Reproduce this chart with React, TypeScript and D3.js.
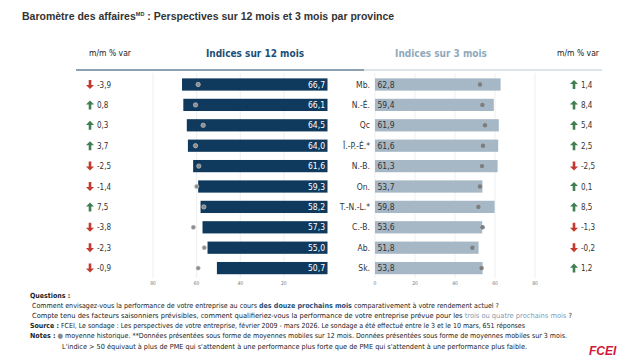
import React from "react";
import * as d3 from "d3";

const provinces = ["Mb.", "N.-É.", "Qc", "Î.-P.-É.*", "N.-B.", "On.", "T.-N.-L.*", "C.-B.", "Ab.", "Sk."];
const index12 = [66.7, 66.1, 64.5, 64.0, 61.6, 59.3, 58.2, 57.3, 55.0, 50.7];
const hist12 = [59.3, 60.5, 57.0, 60.5, 59.0, 60.0, 56.7, 61.5, 56.5, 59.3];
const index3 = [62.8, 59.4, 61.9, 61.6, 61.3, 53.7, 59.8, 53.6, 51.8, 53.8];
const hist3 = [52.5, 53.7, 55.0, 54.0, 53.5, 52.5, 51.7, 53.8, 48.7, 53.3];
const mom12 = [-3.9, 0.8, 0.3, 3.7, -2.5, -1.4, 7.5, -3.8, -2.3, -0.9];
const mom3 = [1.4, 8.4, 5.4, 2.5, -2.5, 0.1, 8.5, -1.3, -0.2, 1.2];
const ticks12 = [80, 60, 40, 20];
const ticks3 = [0, 20, 40, 60, 80];

const W = 635;
const H = 362;
const font = "'DejaVu Sans Condensed', 'DejaVu Sans', sans-serif";
const DARK = "#0f3a5d";
const LIGHT = "#a6b8c6";
const UP = "#3f7f52";
const DOWN = "#c43a2e";

const fmt = (v: number) => v.toFixed(1).replace(".", ",");

const Arrow = ({ x, y, up }: { x: number; y: number; up: boolean }) => {
  // arrow centred on (x, y)
  const p = "M0,-4.5 L4,-0.4 L1.3,-0.4 L1.3,4.5 L-1.3,4.5 L-1.3,-0.4 L-4,-0.4 Z";
  return (
    <path
      d={p}
      fill={up ? UP : DOWN}
      transform={`translate(${x},${y}) rotate(${up ? 0 : 180})`}
    />
  );
};

const App: React.FC = () => {
  const y = d3
    .scaleBand<string>()
    .domain(provinces)
    .range([74.3, 278.3])
    .paddingInner(0.4)
    .paddingOuter(0.2);
  const xL = d3.scaleLinear().domain([0, 80]).range([327.5, 153]);
  const xR = d3.scaleLinear().domain([0, 80]).range([375, 535]);
  const bw = y.bandwidth();
  const cy = (p: string) => (y(p) || 0) + bw / 2;

  return (
    <div style={{ position: "fixed", left: 0, top: 0 }}>
      <svg width={W} height={H} style={{ display: "block", background: "#fff" }} fontFamily={font}>
        {/* title */}
        <text x={22} y={20} fontSize={10.5} fontWeight="bold" fill="#333" fontFamily="'Liberation Sans', Arial, sans-serif">
          Baromètre des affaires
          <tspan fontSize={5.5} dy={-4}>MD</tspan>
          <tspan dy={4}> : Perspectives sur 12 mois et 3 mois par province</tspan>
        </text>

        {/* headers */}
        <text x={110} y={56} fontSize={8.5} fill="#222" textAnchor="middle">m/m % var</text>
        <text x={255} y={57} fontSize={10} fontWeight="bold" fill="#1d4f78" textAnchor="middle">Indices sur 12 mois</text>
        <text x={441} y={57} fontSize={10} fontWeight="bold" fill="#8fa9bd" textAnchor="middle">Indices sur 3 mois</text>
        <text x={578} y={56} fontSize={8.5} fill="#222" textAnchor="middle">m/m % var</text>
        <line x1={76} x2={364} y1={70} y2={70} stroke="#1c4466" strokeWidth={1.2} />
        <line x1={364} x2={602} y1={70} y2={70} stroke="#bccbd6" strokeWidth={1.2} />

        {/* gridlines */}
        {ticks12.map((t) => (
          <line key={`gl${t}`} x1={xL(t)} x2={xL(t)} y1={73} y2={278} stroke="#e8e8e8" strokeWidth={0.7} />
        ))}
        {ticks3.map((t) => (
          <line key={`gr${t}`} x1={xR(t)} x2={xR(t)} y1={73} y2={278} stroke="#e8e8e8" strokeWidth={0.7} />
        ))}
        {ticks12.map((t) => (
          <text key={`tl${t}`} x={xL(t)} y={285} fontSize={5} fill="#777" textAnchor="middle">{t}</text>
        ))}
        {ticks3.map((t) => (
          <text key={`tr${t}`} x={xR(t)} y={285} fontSize={5} fill="#777" textAnchor="middle">{t}</text>
        ))}

        {/* rows */}
        {provinces.map((p, i) => (
          <g key={p}>
            <rect x={xL(index12[i])} y={y(p)} width={xL(0) - xL(index12[i])} height={bw} fill={DARK} />
            <circle cx={xL(hist12[i])} cy={cy(p)} r={2.2} fill="#8c8c8c" stroke="#d0d0d0" strokeWidth={0.6} />
            <text x={xL(0) - 2.5} y={cy(p) + 3} fontSize={8.5} fill="#fff" textAnchor="end">{fmt(index12[i])}</text>

            <text x={370} y={cy(p) + 3} fontSize={8.5} fill="#333" textAnchor="end">{p}</text>
            <rect x={xR(0)} y={y(p)} width={xR(index3[i]) - xR(0)} height={bw} fill={LIGHT} />
            <circle cx={xR(hist3[i])} cy={cy(p)} r={2.2} fill="#7d7d7d" />
            <text x={xR(0) + 2.5} y={cy(p) + 3} fontSize={8.5} fill="#333">{fmt(index3[i])}</text>

            <Arrow x={90} y={cy(p)} up={mom12[i] >= 0} />
            <text x={97} y={cy(p) + 3} fontSize={8} fill="#333">{fmt(mom12[i])}</text>
            <Arrow x={574} y={cy(p)} up={mom3[i] >= 0} />
            <text x={581} y={cy(p) + 3} fontSize={8} fill="#333">{fmt(mom3[i])}</text>
          </g>
        ))}

        {/* footnotes */}
        <g fontSize={7} fill="#222">
          <text x={30} y={298} fontWeight="bold">Questions :</text>
          <text x={32} y={308} textLength={467} lengthAdjust="spacingAndGlyphs">
            Comment envisagez-vous la performance de votre entreprise au cours{" "}
            <tspan fill="#1d4f78" fontWeight="bold">des douze prochains mois</tspan> comparativement à votre rendement actuel ?
          </text>
          <text x={32} y={318} textLength={540} lengthAdjust="spacingAndGlyphs">
            Compte tenu des facteurs saisonniers prévisibles, comment qualifieriez-vous la performance  de votre entreprise prévue pour les{" "}
            <tspan fill="#7f9bb3">trois ou quatre prochains mois</tspan> ?
          </text>
          <text x={30} y={328} textLength={495} lengthAdjust="spacingAndGlyphs">
            <tspan fontWeight="bold">Source :</tspan> FCEI, Le sondage : Les perspectives de votre entreprise, février 2009 - mars 2026. Le sondage a été effectué entre le 3 et le 10 mars, 651 réponses
          </text>
          <text x={30} y={338} textLength={537} lengthAdjust="spacingAndGlyphs">
            <tspan fontWeight="bold">Notes :</tspan>
            <tspan fill="#888"> ● </tspan>
            moyenne historique. **Données présentées sous forme de moyennes mobiles sur 12 mois. Données présentées sous forme de moyennes mobiles sur 3 mois.
          </text>
          <text x={62} y={349} textLength={465} lengthAdjust="spacingAndGlyphs">
            L'indice &gt; 50 équivaut à plus de PME qui s'attendent à une performance plus forte que de PME qui s'attendent à une performance plus faible.
          </text>
        </g>
        <text x={589} y={355} fontSize={12} fontWeight="bold" fontStyle="italic" fill="#d01639" fontFamily="'Liberation Sans', Arial, sans-serif">FCEI</text>
      </svg>
    </div>
  );
};

export default App;
